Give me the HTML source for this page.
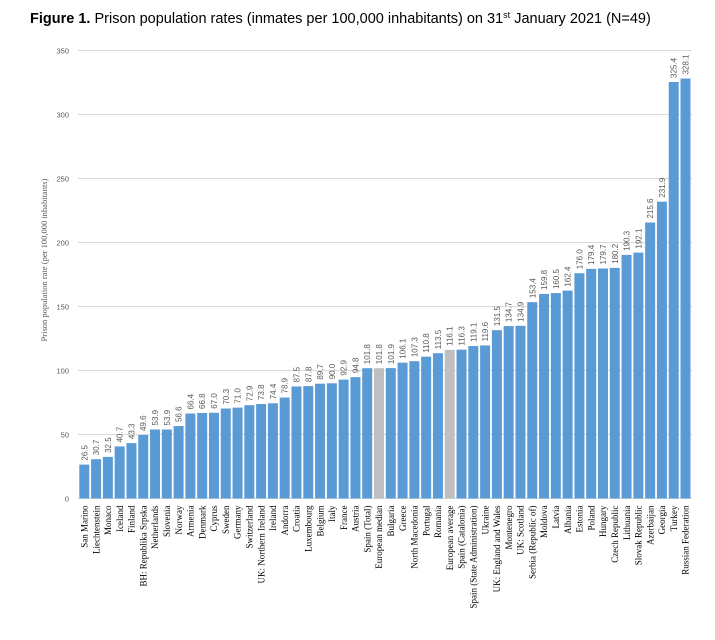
<!DOCTYPE html>
<html><head><meta charset="utf-8">
<style>
body{margin:0;background:#fff;width:715px;height:635px;overflow:hidden}
</style></head>
<body>
<svg width="715" height="635" xmlns="http://www.w3.org/2000/svg">
<text x="30" y="23" font-family="Liberation Sans, sans-serif" font-size="14.5" fill="#000"><tspan font-weight="bold">Figure 1.</tspan> Prison population rates (inmates per 100,000 inhabitants) on 31<tspan font-size="9" dy="-5">st</tspan><tspan dy="5"> January 2021 (N=49)</tspan></text>
<text transform="translate(47,260) rotate(-90)" text-anchor="middle" font-family="Liberation Serif, serif" font-size="8.5" fill="#595959">Prison population rate (per 100,000 inhabitants)</text>
<g id="grid"></g>
<g id="bars"></g>
</svg>
<script>
const categories=["San Marino","Liechtenstein","Monaco","Iceland","Finland","BH: Republika Srpska","Netherlands","Slovenia","Norway","Armenia","Denmark","Cyprus","Sweden","Germany","Switzerland","UK: Northern Ireland","Ireland","Andorra","Croatia","Luxembourg","Belgium","Italy","France","Austria","Spain (Total)","European median","Bulgaria","Greece","North Macedonia","Portugal","Romania","European average","Spain (Catalonia)","Spain (State Administration)","Ukraine","UK: England and Wales","Montenegro","UK: Scotland","Serbia (Republic of)","Moldova","Latvia","Albania","Estonia","Poland","Hungary","Czech Republic","Lithuania","Slovak Republic","Azerbaijan","Georgia","Turkey","Russian Federation"];
const values=[26.5,30.7,32.5,40.7,43.3,49.6,53.9,53.9,56.6,66.4,66.8,67.0,70.3,71.0,72.9,73.8,74.4,78.9,87.5,87.8,89.7,90.0,92.9,94.8,101.8,101.8,101.9,106.1,107.3,110.8,113.5,116.1,116.3,119.1,119.6,131.5,134.7,134.9,153.4,159.8,160.5,162.4,176.0,179.4,179.7,180.2,190.3,192.1,215.6,231.9,325.4,328.1];
const highlighted=["European median","European average"];
const yTicks=[0,50,100,150,200,250,300,350];

const NS="http://www.w3.org/2000/svg";
const y0=498.5, pxPer=64/50, xLeft=78, xRight=692;
const step=(xRight-xLeft-1)/categories.length;
function yScale(v){return y0-v*pxPer;}
function xCenter(i){return xLeft+0.4+step*(i+0.5);}
function mk(t,a){const e=document.createElementNS(NS,t);for(const k in a)e.setAttribute(k,a[k]);return e;}
const grid=document.getElementById('grid'), bars=document.getElementById('bars');
yTicks.forEach(t=>{
  const y=yScale(t);
  const l=mk('line',{x1:xLeft,x2:xRight,y1:y,y2:y,stroke:'#d9d9d9','stroke-width':1});
  
  
  grid.appendChild(l);
  const tx=mk('text',{x:69,y:y+3,'text-anchor':'end','font-family':'Liberation Sans, sans-serif','font-size':'7.5',fill:'#595959'});
  
  
  tx.textContent=t; grid.appendChild(tx);
});
categories.forEach((c,i)=>{
  const v=values[i], cx=xCenter(i), w=10, y=yScale(v);
  const r=mk('rect',{x:cx-w/2,y:y,width:w,height:y0-y,fill:highlighted.includes(c)?'#bfbfbf':'#5b9bd5'});
  
  
  bars.appendChild(r);
  const vl=mk('text',{transform:`translate(${cx+3},${y-4}) rotate(-90)`,'font-family':'Liberation Sans, sans-serif','font-size':'8',fill:'#595959'});
  
  
  vl.textContent=v.toFixed(1); bars.appendChild(vl);
  const cl=mk('text',{transform:`translate(${cx+3.2},${y0+7}) rotate(-90)`,'text-anchor':'end','font-family':'Liberation Serif, serif','font-size':'9',fill:'#000'});
  
  
  cl.textContent=c; bars.appendChild(cl);
});
</script>
</body></html>
